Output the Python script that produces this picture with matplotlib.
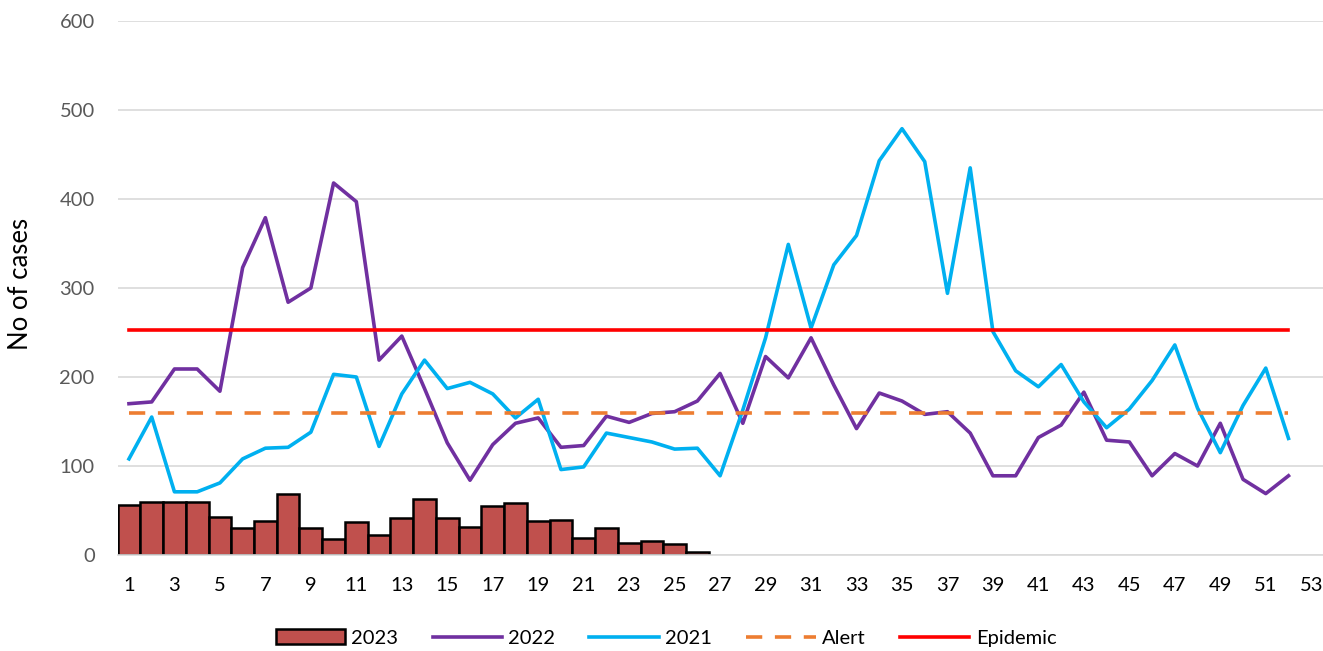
import matplotlib
matplotlib.use("Agg")
import matplotlib.pyplot as plt
import numpy as np

plt.rcParams['font.family'] = ['Lato', 'DejaVu Sans']

weeks = list(range(1, 53))
weeks_2023 = list(range(1, 27))
cases_2023 = [56, 59, 59, 59, 43, 30, 38, 69, 30, 18, 37, 22, 42, 63, 42, 32, 55, 58, 38, 39,
              19, 30, 14, 16, 12, 3]
cases_2022 = [170, 172, 209, 209, 184, 323, 379, 284, 300, 418, 397, 219, 246, 187, 126, 84,
              124, 148, 154, 121, 123, 156, 149, 159, 161, 173, 204, 148, 223, 199, 244, 191,
              142, 182, 173, 158, 161, 137, 89, 89, 132, 146, 183, 129, 127, 89, 114, 100,
              148, 85, 69, 89]
cases_2021 = [108, 155, 71, 71, 81, 108, 120, 121, 138, 203, 200, 122, 181, 219, 187, 194,
              181, 154, 175, 96, 99, 137, 132, 127, 119, 120, 89, 163, 244, 349, 255, 326,
              359, 443, 479, 442, 294, 435, 251, 207, 189, 214, 172, 143, 164, 196, 236, 165,
              115, 168, 210, 131]
alert_level = 159
epidemic_level = 253
xtick_labels = list(range(1, 54, 2))

fig = plt.figure(figsize=(13.23, 6.51), dpi=100)
ax = fig.add_axes([117.6 / 1323, 96 / 651, 1205 / 1323, 534 / 651])

LW = 2.6
ax.bar(weeks_2023, cases_2023, width=1.0, color='#C0504D', edgecolor='black',
       linewidth=1.8, label='2023', zorder=2)
ax.plot(weeks, cases_2022, color='#7030A0', lw=LW, label='2022', zorder=3)
ax.plot(weeks, cases_2021, color='#00B0F0', lw=LW, label='2021', zorder=3)
ax.plot(weeks, [alert_level] * len(weeks), color='#ED7D31', lw=LW, ls=(0, (4.5, 3.5)),
        label='Alert', zorder=3)
ax.plot(weeks, [epidemic_level] * len(weeks), color='#FF0000', lw=LW,
        label='Epidemic', zorder=3)

ax.set_xlim(0.5, 53.5)
ax.set_ylim(0, 600)
ax.set_yticks(range(0, 601, 100))
ax.set_xticks(xtick_labels)
ax.set_xticklabels([str(v) for v in xtick_labels])
ax.tick_params(axis='both', length=0, labelsize=14.5, colors='#595959')
ax.tick_params(axis='x', pad=16, colors='black', labelcolor='black')
ax.tick_params(axis='y', pad=16.5, labelcolor='#595959')
ax.grid(axis='y', color='#D9D9D9', lw=1.2, zorder=0)
ax.set_axisbelow(True)
for s in ['top', 'right', 'left']:
    ax.spines[s].set_visible(False)
ax.spines['bottom'].set_color('#D9D9D9')
ax.spines['bottom'].set_linewidth(1.2)

fig.text(21 / 1323, 1 - 284 / 651, 'No of cases', rotation=90, fontsize=18.5,
         ha='center', va='center', color='black')

handles, labels = ax.get_legend_handles_labels()
order = [4, 0, 1, 2, 3]
fig.legend([handles[i] for i in order], [labels[i] for i in order],
           loc='center', bbox_to_anchor=(666 / 1323, 1 - 638 / 651), ncol=5,
           frameon=False, fontsize=14.5, handlelength=3.45, columnspacing=1.69,
           handletextpad=0.32, labelcolor='black')

fig.savefig('out.png', dpi=100)
